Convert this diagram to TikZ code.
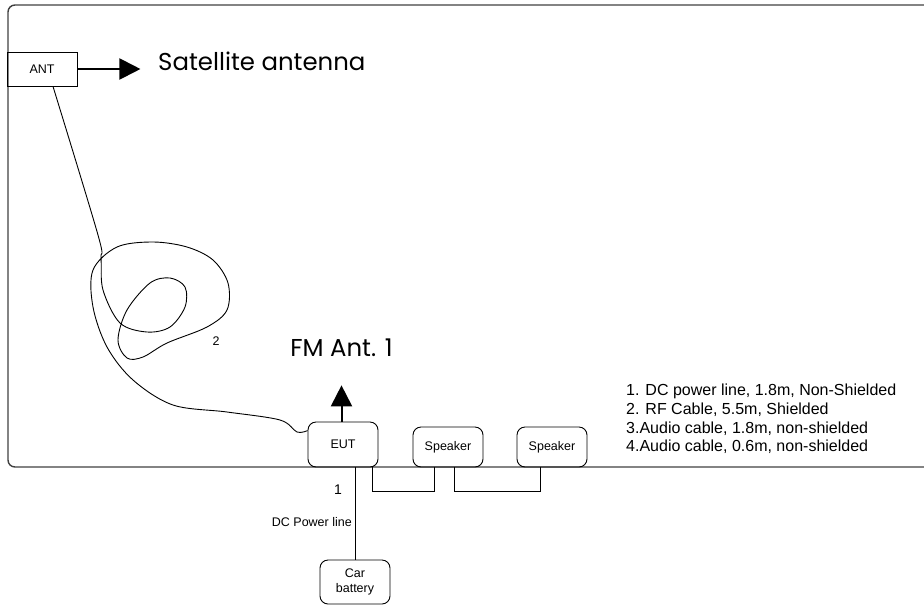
\documentclass[tikz,border=0pt]{standalone}
\usepackage{fontspec}
\setmainfont{Liberation Sans}
\newfontfamily{\gothic}{Poppins}
\usetikzlibrary{positioning, arrows.meta, calc}

\begin{document}
\begin{tikzpicture}[x=1pt, y=-1pt,
  frame/.style={draw=black!75, line width=1.4pt, rounded corners=7pt},
  unit/.style={draw, line width=0.9pt, rounded corners=8pt, minimum width=70pt,
               align=center, inner sep=0pt, font=\fontsize{12.5}{15}\selectfont},
  cable/.style={line width=0.9pt},
  bigarrow/.style={-{Triangle[length=21pt,width=21pt]}, line width=2pt},
  lbl/.style={inner sep=0pt, font=\fontsize{12.5}{15}\selectfont},
  title/.style={inner sep=0pt, font=\gothic\fontsize{24.4}{29}\selectfont}]
\useasboundingbox (0,0) rectangle (924,606);

% test room
\draw[frame] (924,5) -- (8,5) -- (8,467) -- (924,467);

% units
\node[unit, rounded corners=0pt, minimum height=34pt] (ant) at (42,69) {ANT};
\node[unit, minimum height=45pt] (eut) at (343,444.5) {EUT};
\node[unit, minimum height=40pt] (spk1) at (448,447) {Speaker};
\node[unit, minimum height=40pt] (spk2) at (552,447) {Speaker};
\node[unit, minimum height=44pt] (bat) at (355,582) {Car\\battery};

% titles
\node[title, anchor=base west] (sat) at (158,70) {Satellite antenna};
\node[title, anchor=base] (fm) at (341.5,356) {FM Ant. 1};
\draw[bigarrow] (ant.east) -- ($(ant.east)+(63,0)$);
\draw[bigarrow, shorten >=29pt] (fm.south |- eut.north) -- (fm.south);

% cables
\draw[cable] plot[smooth, tension=0.55] coordinates {
  ($(ant.south)+(11,0)$) (98,235) (101,258) (103,290) (120,323) (147,332)
  (170,327) (185,307) (185,287) (170,278) (150,283) (127,310) (118,340)
  (127,358) (143,357) (167,343) (207,327) (227,310) (228,283) (213,260)
  (187,247) (153,242) (117,247) (93,270) (93,307) (107,347) (133,380)
  (173,405) (227,412) (280,420) (297,432) ($(eut.north west)+(0,9)$)};
\draw[cable] (eut.south -| bat.north) -- (bat.north);
\draw[cable] ($(eut.south east)+(-6,0)$) -- ++(0,24) -| ($(spk1.south)+(-14,0)$);
\draw[cable] ($(spk1.south)+(6,0)$) -- ++(0,24) -| ($(spk2.south)+(-12,0)$);

% labels
\node[lbl] (n2) at (216,341) {2};
\node[lbl, font=\fontsize{14}{16}\selectfont] (n1) at (338,490) {1};
\node[lbl, anchor=east] (dcp) at (352,522) {DC Power line};
\node[lbl, anchor=north west, align=left, font=\fontsize{16}{18.6}\selectfont] (legend) at (626,384)
  {1. DC power line, 1.8m, Non-Shielded\\
   2. RF Cable, 5.5m, Shielded\\
   3.Audio cable, 1.8m, non-shielded\\
   4.Audio cable, 0.6m, non-shielded};
\end{tikzpicture}
\end{document}
